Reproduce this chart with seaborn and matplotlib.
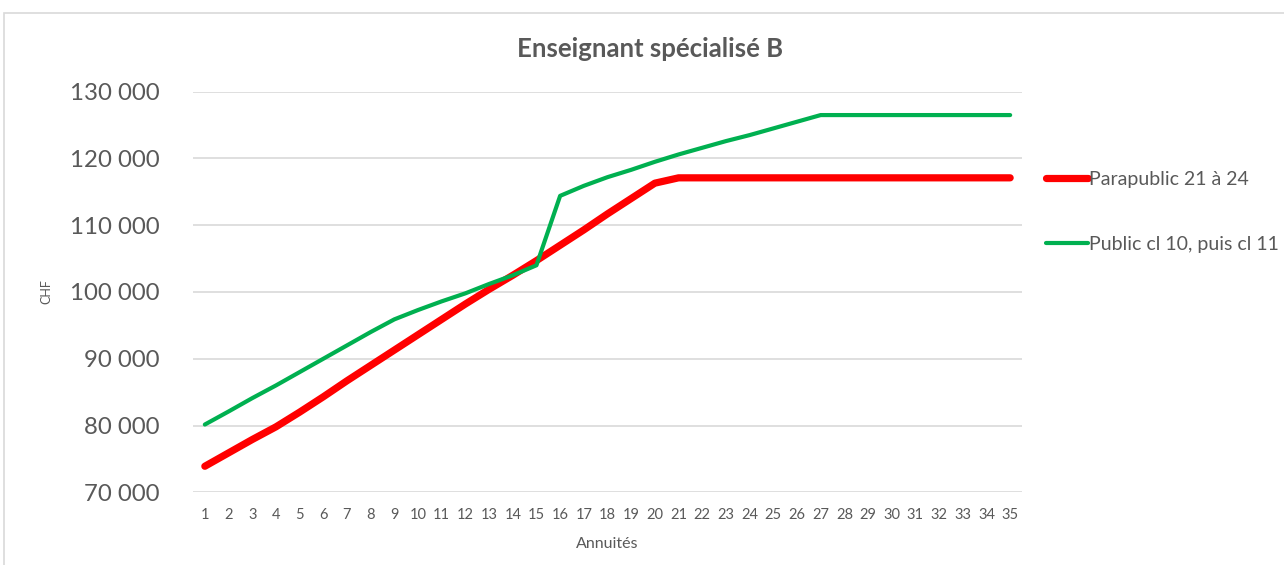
import pandas as pd
import matplotlib.pyplot as plt
import seaborn as sns
from matplotlib.patches import Rectangle
from matplotlib.ticker import FuncFormatter

# annuités 1..35
annuites = list(range(1, 36))

parapublic = [73900, 75900, 77900, 79800, 82000, 84300, 86700, 89000, 91300, 93600,
              95900, 98200, 100400, 102500, 104700, 107000, 109300, 111700, 114000, 116300,
              117100, 117100, 117100, 117100, 117100, 117100, 117100, 117100, 117100, 117100,
              117100, 117100, 117100, 117100, 117100]

public = [80150, 82100, 84100, 86000, 88000, 90000, 92000, 94000, 95900, 97300,
          98600, 99800, 101200, 102500, 104000, 114400, 115900, 117200, 118300, 119500,
          120600, 121600, 122600, 123500, 124500, 125500, 126500, 126500, 126500, 126500,
          126500, 126500, 126500, 126500, 126500]

labels = ["Parapublic 21 à 24", "Public cl 10, puis cl 11"]
couleurs = ["#FF0000", "#00B050"]
epaisseurs = [5.2, 3.0]

TXT = "#595959"

sns.set_style("white")
plt.rcParams['font.family'] = ['Lato', 'DejaVu Sans']

df = pd.DataFrame({"annuite": annuites, labels[0]: parapublic, labels[1]: public})
df = df.melt(id_vars="annuite", var_name="serie", value_name="chf")

fig = plt.figure(figsize=(12.84, 5.65), dpi=100)
ax = fig.add_axes([193 / 1284, 1 - 492.3 / 565, (1022 - 193) / 1284, (492.3 - 91.7) / 565])

for lab, col, lw in zip(labels, couleurs, epaisseurs):
    sub = df[df["serie"] == lab]
    sns.lineplot(data=sub, x="annuite", y="chf", color=col, linewidth=lw,
                 ax=ax, label=lab, solid_capstyle="round", solid_joinstyle="round")

ax.set_xlim(0.5, 35.5)
ax.set_ylim(70000, 130000)
ax.set_xticks(annuites)
ax.set_yticks(range(70000, 130001, 10000))
ax.yaxis.set_major_formatter(FuncFormatter(lambda v, p: f"{int(v):,}".replace(",", " ")))
ax.grid(axis="y", color="#D9D9D9", linewidth=1.2)
ax.set_axisbelow(True)
for s in ax.spines.values():
    s.set_visible(False)

ax.tick_params(axis="y", length=0, pad=24, labelsize=17.3, labelcolor=TXT)
ax.tick_params(axis="x", length=0, pad=11, labelsize=10.5, labelcolor=TXT)

ax.set_xlabel("Annuités", fontsize=11.5, color=TXT, labelpad=11)
ax.set_ylabel("CHF", fontsize=9, color=TXT)
ax.yaxis.set_label_coords(-141 / 829, 0.5)

fig.text(650 / 1284, 1 - 49 / 565, "Enseignant spécialisé B", ha="center", va="center",
         fontsize=18.5, fontweight="bold", color=TXT)

ax.legend_.remove()
h, l = ax.get_legend_handles_labels()
fig.legend(h, l, loc="upper left", bbox_to_anchor=(1046 / 1284, 1 - 171 / 565),
           frameon=False, fontsize=14, labelcolor=TXT, handlelength=2.15,
           handletextpad=0.05, labelspacing=2.45, borderpad=0, borderaxespad=0)

# cadre du graphique
fig.patches.append(Rectangle((4 / 1284, -0.05), 1.1, 1 - 13 / 565 + 0.05,
                             transform=fig.transFigure, fill=False,
                             edgecolor="#D9D9D9", linewidth=1.2))

fig.savefig("out.png", dpi=100)
